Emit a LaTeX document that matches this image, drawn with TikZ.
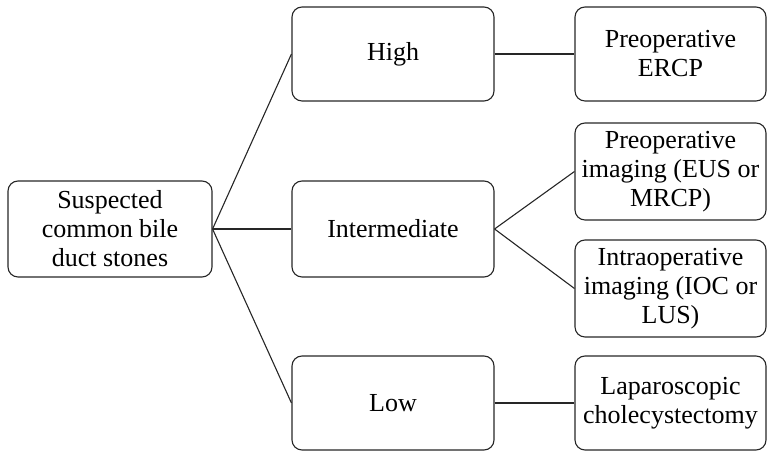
\documentclass[tikz,border=0pt]{standalone}
\usepackage{fontspec}
\setmainfont{Liberation Serif}
\begin{document}
\begin{tikzpicture}[x=1pt,y=1pt,
  box/.style={draw=black!85, line width=1.1pt, rounded corners=10pt, align=center,
    font=\fontsize{26}{29}\selectfont, inner sep=0pt},
  conn/.style={draw=black!85, line width=1.1pt}]
\useasboundingbox (0,0) rectangle (768,454);
\node[box, minimum width=204, minimum height=96] (s) at (110,225) {Suspected\\common bile\\duct stones};
\node[box, minimum width=202, minimum height=94] (h) at (393,400) {High};
\node[box, minimum width=202, minimum height=96] (i) at (393,225) {Intermediate};
\node[box, minimum width=202, minimum height=94] (l) at (393,51) {Low};
\node[box, minimum width=191, minimum height=94] (r1) at (670.5,400) {Preoperative\\ERCP};
\node[box, minimum width=191, minimum height=97] (r2) at (670.5,282.5) {Preoperative\\imaging (EUS or\\MRCP)};
\node[box, minimum width=191, minimum height=97] (r3) at (670.5,165.5) {Intraoperative\\imaging (IOC or\\LUS)};
\node[box, minimum width=191, minimum height=94] (r4) at (670.5,51) {Laparoscopic\\cholecystectomy};
\draw[conn] (s.east) -- (h.west);
\draw[conn] (s.east) -- (i.west);
\draw[conn] (s.east) -- (l.west);
\draw[conn] (h.east) -- (r1.west);
\draw[conn] (i.east) -- (r2.west);
\draw[conn] (i.east) -- (r3.west);
\draw[conn] (l.east) -- (r4.west);
\end{tikzpicture}
\end{document}
